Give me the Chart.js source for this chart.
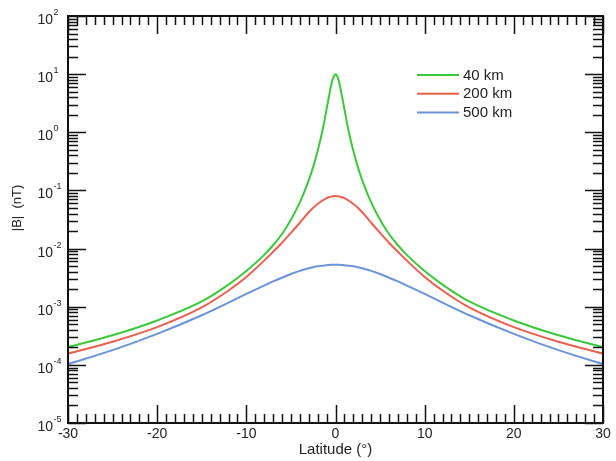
<!DOCTYPE html>
<html>
<head>
<meta charset="utf-8">
<script src="https://cdn.jsdelivr.net/npm/chart.js@4.4.1/dist/chart.umd.min.js"></script>
<style>
  html, body { margin: 0; padding: 0; background: #fff; }
  #wrap { width: 616px; height: 461px; }
</style>
</head>
<body>
<div id="wrap"><canvas id="fieldChart" width="616" height="461"></canvas></div>
<script>
// latitude (deg) and |B| (nT)
const latitude = [-30, -25, -20, -15, -12, -10, -8, -7, -6, -5, -4, -3.5, -3, -2.5, -2, -1.5, -1, -0.75, -0.5, -0.25, 0,
                  0.25, 0.5, 0.75, 1, 1.5, 2, 2.5, 3, 3.5, 4, 5, 6, 7, 8, 10, 12, 15, 20, 25, 30];
const b40km = [2.01e-4, 3.23e-4, 5.8e-4, 1.23e-3, 2.4e-3, 4.1e-3, 7.8e-3, 0.0114, 0.0178, 0.0313, 0.0625, 0.0946, 0.15, 0.254, 0.48, 1.0, 2.5, 4.0, 6.3, 8.8, 10,
               8.8, 6.3, 4.0, 2.5, 1.0, 0.48, 0.254, 0.15, 0.0946, 0.0625, 0.0313, 0.0178, 0.0114, 7.8e-3, 4.1e-3, 2.4e-3, 1.23e-3, 5.8e-4, 3.23e-4, 2.01e-4];
const b200km = [1.56e-4, 2.5e-4, 4.45e-4, 9.7e-4, 1.9e-3, 3.25e-3, 6.2e-3, 8.8e-3, 0.0126, 0.0186, 0.0278, 0.0345, 0.0422, 0.0504, 0.0586, 0.0665, 0.0735, 0.0762, 0.0783, 0.0796, 0.08,
                0.0796, 0.0783, 0.0762, 0.0735, 0.0665, 0.0586, 0.0504, 0.0422, 0.0345, 0.0278, 0.0186, 0.0126, 8.8e-3, 6.2e-3, 3.25e-3, 1.9e-3, 9.7e-4, 4.45e-4, 2.5e-4, 1.56e-4];
const b500km = [1.03e-4, 1.79e-4, 3.42e-4, 7.14e-4, 1.18e-3, 1.66e-3, 2.31e-3, 2.72e-3, 3.16e-3, 3.65e-3, 4.14e-3, 4.37e-3, 4.59e-3, 4.78e-3, 4.95e-3, 5.08e-3, 5.19e-3, 5.22e-3, 5.25e-3, 5.26e-3, 5.27e-3,
                5.26e-3, 5.25e-3, 5.22e-3, 5.19e-3, 5.08e-3, 4.95e-3, 4.78e-3, 4.59e-3, 4.37e-3, 4.14e-3, 3.65e-3, 3.16e-3, 2.72e-3, 2.31e-3, 1.66e-3, 1.18e-3, 7.14e-4, 3.42e-4, 1.79e-4, 1.03e-4];

const seriesLabels = ['40 km', '200 km', '500 km'];
const seriesColors = ['#3cc83c', '#e8604f', '#6b93d6'];
const yDecades = [-5, -4, -3, -2, -1, 0, 1, 2];

const FONT = '"Liberation Sans", Arial, Helvetica, sans-serif';

function toPoints(vals) {
    return latitude.map((lat, i) => ({ x: lat, y: vals[i] }));
}

// frame, inside ticks on all four sides, y labels with exponents, legend
const frameTicks = {
    id: 'frameTicks',
    afterDatasetsDraw(chart) {
        const { ctx, chartArea: a, scales: { x, y } } = chart;
        const seg = (x1, y1, x2, y2) => {
            ctx.beginPath();
            ctx.moveTo(x1, y1);
            ctx.lineTo(x2, y2);
            ctx.stroke();
        };
        ctx.save();
        ctx.strokeStyle = '#111';
        ctx.lineWidth = 1.5;

        for (let v = -30; v <= 30; v++) {
            const px = Math.round(x.getPixelForValue(v)) + 0.5;
            const len = v % 10 === 0 ? 18 : 9;
            seg(px, a.bottom, px, a.bottom - len);
            seg(px, a.top, px, a.top + len);
        }
        for (const k of yDecades) {
            for (let m = 1; m <= 9; m++) {
                if (k === 2 && m > 1) break;
                const py = Math.round(y.getPixelForValue(m * Math.pow(10, k))) + 0.5;
                const len = m === 1 ? 18 : 10;
                seg(a.left, py, a.left + len, py);
                seg(a.right, py, a.right - len, py);
            }
        }
        ctx.lineWidth = 2;
        ctx.strokeRect(a.left, a.top, a.width, a.height);

        // y tick labels 10^k
        ctx.fillStyle = '#222';
        for (const k of yDecades) {
            const py = y.getPixelForValue(Math.pow(10, k));
            ctx.font = '14px ' + FONT;
            ctx.textAlign = 'right';
            ctx.textBaseline = 'alphabetic';
            ctx.fillText('10', 53, py + 8);
            ctx.font = '9px ' + FONT;
            ctx.textAlign = 'left';
            ctx.fillText(String(k), 53.5, py - 1);
        }

        // axis titles
        ctx.font = '15px ' + FONT;
        ctx.textAlign = 'center';
        ctx.textBaseline = 'middle';
        ctx.fillText('Latitude (°)', (a.left + a.right) / 2, 450);
        ctx.save();
        ctx.translate(17, 208);
        ctx.rotate(-Math.PI / 2);
        ctx.font = '13px ' + FONT;
        ctx.fillText('|B|  (nT)', 0, 0);
        ctx.restore();

        // legend
        ctx.font = '15px ' + FONT;
        ctx.textAlign = 'left';
        seriesLabels.forEach((lab, i) => {
            const ly = 75 + i * 18.8;
            ctx.strokeStyle = seriesColors[i];
            ctx.lineWidth = 2;
            seg(417, ly, 459, ly);
            ctx.fillStyle = '#222';
            ctx.fillText(lab, 463, ly + 0.5);
        });
        ctx.restore();
    }
};

new Chart(document.getElementById('fieldChart'), {
    type: 'line',
    data: {
        datasets: [b40km, b200km, b500km].map((vals, i) => ({
            label: seriesLabels[i],
            data: toPoints(vals),
            borderColor: seriesColors[i],
            borderWidth: 2,
            pointRadius: 0,
            cubicInterpolationMode: 'monotone',
            fill: false
        }))
    },
    options: {
        responsive: false,
        animation: false,
        layout: { padding: { top: 16, right: 13, left: 0, bottom: 0 } },
        plugins: { legend: { display: false }, tooltip: { enabled: false } },
        scales: {
            x: {
                type: 'linear',
                min: -30,
                max: 30,
                grid: { display: false, drawTicks: false },
                border: { display: false },
                ticks: {
                    stepSize: 10,
                    padding: 3,
                    color: '#222',
                    font: { size: 14, family: FONT }
                },
                afterFit(scale) { scale.height = 38; }
            },
            y: {
                type: 'logarithmic',
                min: 1e-5,
                max: 100,
                grid: { display: false, drawTicks: false },
                border: { display: false },
                ticks: { display: false },
                afterFit(scale) { scale.width = 68; }
            }
        }
    },
    plugins: [frameTicks]
});
</script>
</body>
</html>
